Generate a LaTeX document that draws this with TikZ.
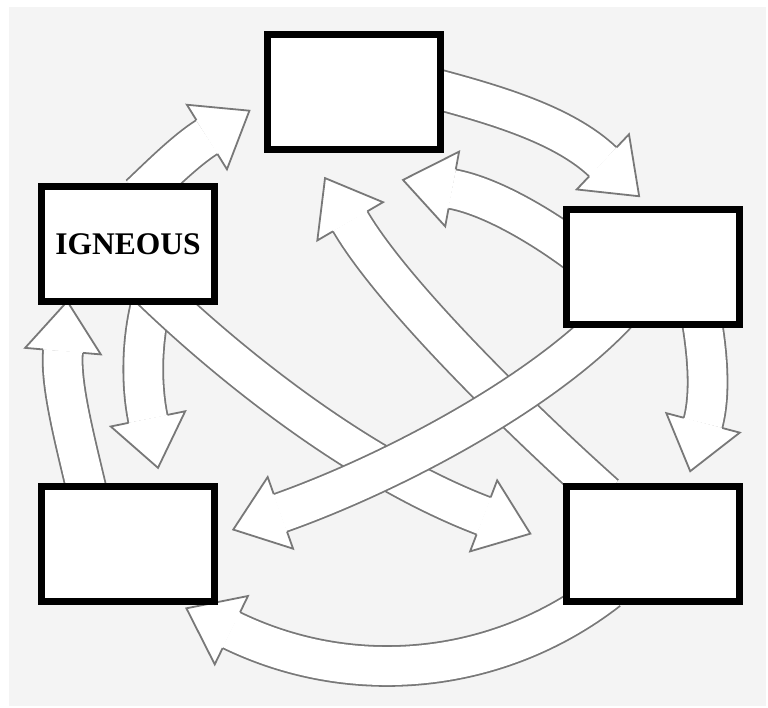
\documentclass[tikz,border=0pt]{standalone}
\usepackage{fontspec}
\setmainfont{Liberation Serif}
\usetikzlibrary{decorations.markings}
\definecolor{arrowgray}{RGB}{120,120,120}
\definecolor{paper}{RGB}{244,244,244}

\begin{document}
\begin{tikzpicture}[x=1pt,y=-1pt]
\tikzstyle{rockbox}=[rectangle, draw=black, line width=7pt, fill=white,
    minimum width=173pt, minimum height=115pt, inner sep=0pt]
\tikzstyle{bigarrow}=[draw=arrowgray, line width=1.8pt, double=white, double distance=38pt,
    postaction={decorate, decoration={markings, mark=at position 0.999 with
    {\filldraw[fill=white, draw=arrowgray, line width=1.8pt]
      (0,19.9) -- (0,38) -- (50,0) -- (0,-38) -- (0,-19.9);}}}]

\useasboundingbox (0,0) rectangle (768,708);
\fill[paper] (9,7) rectangle (766,706);

% where the arrows start and end
\coordinate (a0) at (140,195); \coordinate (a1) at (207,137);
\coordinate (b0) at (425,86);  \coordinate (b1) at (603,162);
\coordinate (c0) at (698,300); \coordinate (c1) at (703,423);
\coordinate (d0) at (608,590); \coordinate (d1) at (231,630);
\coordinate (e0) at (89,500);  \coordinate (e1) at (63,351);
\coordinate (f0) at (580,255); \coordinate (f1) at (452,189);
\coordinate (g0) at (155,290); \coordinate (g1) at (148,419);
\coordinate (h0) at (150,288); \coordinate (h1) at (484,516);
\coordinate (i0) at (605,495); \coordinate (i1) at (350,221);
\coordinate (j0) at (620,310); \coordinate (j1) at (280,513);

% outer ring
\draw[bigarrow] (a0) .. controls (158,178) and (186,150) .. (a1);
\draw[bigarrow] (b0) .. controls (493,104) and (563,124) .. (b1);
\draw[bigarrow] (c0) .. controls (708,350) and (711,393) .. (c1);
\draw[bigarrow] (d0) .. controls (500,674) and (354,690) .. (d1);
\draw[bigarrow] (e0) .. controls (75,440) and (60,385) .. (e1);
% inner ones
\draw[bigarrow] (f0) .. controls (540,225) and (490,196) .. (f1);
\draw[bigarrow] (g0) .. controls (142,330) and (140,380) .. (g1);
% across the middle
\draw[bigarrow] (h0) .. controls (236,371) and (363,470) .. (h1);
\draw[bigarrow] (i0) .. controls (510,410) and (390,290) .. (i1);
\draw[bigarrow] (j0) .. controls (545,392) and (393,473) .. (j1);

\node[rockbox] (ign) at (128,244) {\fontsize{31.5}{36}\selectfont\bfseries IGNEOUS};
\node[rockbox] (top) at (354,92) {};
\node[rockbox] (ru) at (653,267) {};
\node[rockbox] (bl) at (128,544) {};
\node[rockbox] (br) at (653,544) {};
\end{tikzpicture}
\end{document}
